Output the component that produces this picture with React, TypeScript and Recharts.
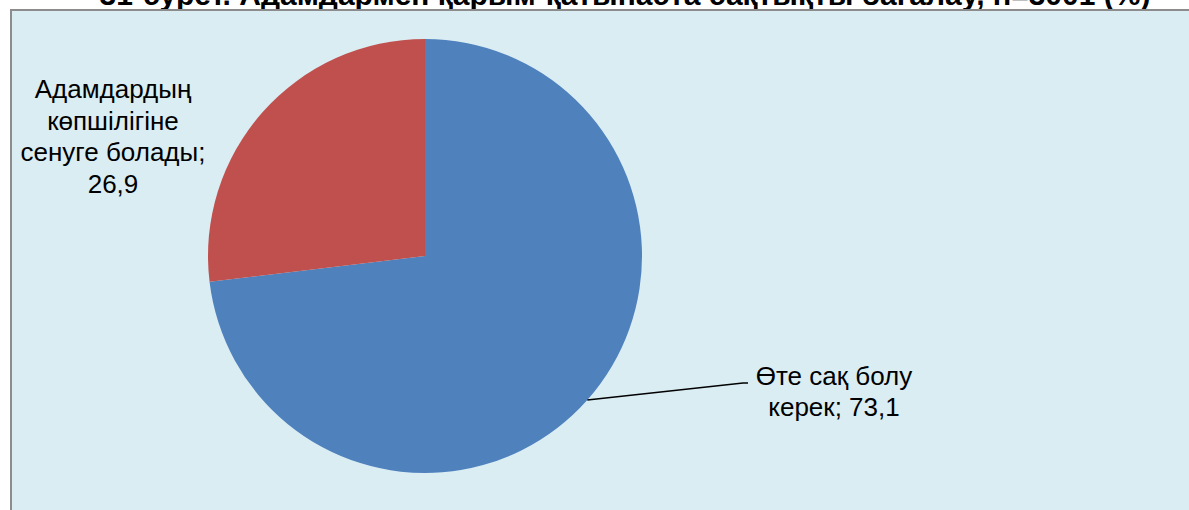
import React from "react";
import { PieChart, Pie, Cell } from "recharts";

const categories = ["Өте сақ болу керек", "Адамдардың көпшілігіне сенуге болады"];
const values = [73.1, 26.9];
const labelLines = [
  ["Өте сақ болу", "керек; 73,1"],
  ["Адамдардың", "көпшілігіне", "сенуге болады;", "26,9"],
];
const colors = ["#4F81BD", "#C0504D"];

const data = categories.map((name, i) => ({ name, value: values[i] }));

const FONT = "'Liberation Sans', Arial, sans-serif";
const RAD = Math.PI / 180;

function renderLabel(props: any) {
  const { cx, cy, midAngle, outerRadius, index } = props;
  const lines = labelLines[index];
  if (index === 0) {
    const sx = cx + outerRadius * Math.cos(-midAngle * RAD);
    const sy = cy + outerRadius * Math.sin(-midAngle * RAD);
    const ex = cx + 318;
    const ey = cy + 127;
    return (
      <g>
        <polyline points={`${sx},${sy} ${ex},${ey} ${ex + 5},${ey}`} fill="none" stroke="#000" strokeWidth={1.5} />
        <text x={cx + 409} y={cy + 129} textAnchor="middle" fontFamily={FONT} fontSize={26} fill="#000">
          {lines.map((l, i) => (
            <tspan key={i} x={cx + 409} dy={i === 0 ? 0 : 30.5}>{l}</tspan>
          ))}
        </text>
      </g>
    );
  }
  return (
    <text x={cx - 312} y={cy - 158} textAnchor="middle" fontFamily={FONT} fontSize={26} fill="#000">
      {lines.map((l, i) => (
        <tspan key={i} x={cx - 312} dy={i === 0 ? 0 : 31.7}>{l}</tspan>
      ))}
    </text>
  );
}

export default function App() {
  return (
    <div style={{ position: "fixed", left: 0, top: 0, width: 1189, height: 510, background: "#fff", overflow: "hidden" }}>
      <div
        style={{
          position: "absolute",
          left: 0,
          top: -22,
          width: 1250,
          textAlign: "center",
          fontFamily: FONT,
          fontWeight: "bold",
          fontSize: 30,
          lineHeight: "34px",
          whiteSpace: "nowrap",
          color: "#000",
        }}
      >
        31-сурет. Адамдармен қарым-қатынаста сақтықты бағалау, n=3001 (%)
      </div>
      <div
        style={{
          position: "absolute",
          left: 10,
          top: 9,
          width: 1200,
          height: 520,
          background: "#DAEDF3",
          borderLeft: "2px solid #8C8C8C",
          borderTop: "2px solid #8C8C8C",
        }}
      />
      <div style={{ position: "absolute", left: 0, top: 0 }}>
        <PieChart width={1189} height={510} margin={{ top: 0, right: 0, bottom: 0, left: 0 }}>
          <Pie
            data={data}
            dataKey="value"
            nameKey="name"
            cx={425}
            cy={256}
            outerRadius={217}
            startAngle={90}
            endAngle={-270}
            stroke="none"
            label={renderLabel}
            labelLine={false}
            isAnimationActive={false}
          >
            {data.map((d, i) => (
              <Cell key={d.name} fill={colors[i]} />
            ))}
          </Pie>
        </PieChart>
      </div>
    </div>
  );
}
